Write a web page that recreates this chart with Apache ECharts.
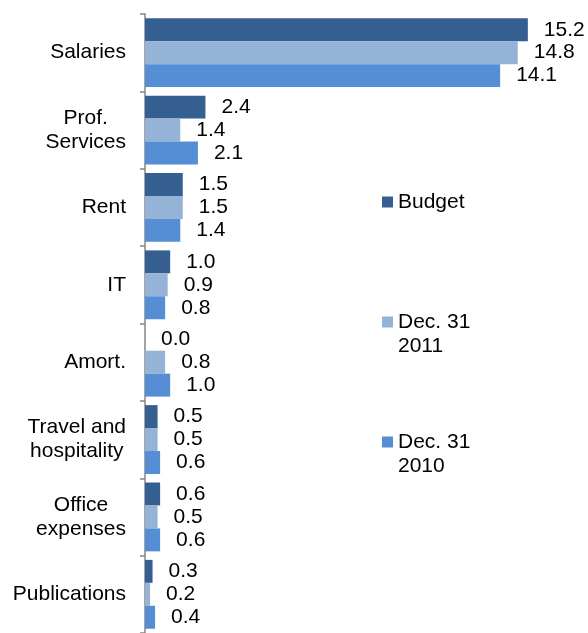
<!DOCTYPE html>
<html>
<head>
<meta charset="utf-8">
<script src="https://cdn.jsdelivr.net/npm/echarts@6/dist/echarts.min.js"></script>
<style>
  html, body { margin: 0; padding: 0; background: #ffffff; }
  #chart { width: 588px; height: 633px; }
</style>
</head>
<body>
<div id="chart"></div>
<script>
// Expense categories, top to bottom
const categories = ['Salaries', 'Prof.\nServices', 'Rent', 'IT', 'Amort.', 'Travel and\nhospitality', 'Office\nexpenses', 'Publications'];

// Series names and values (millions)
const seriesNames = ['Budget', 'Dec. 31 2011', 'Dec. 31 2010'];
const budget  = [15.2, 2.4, 1.5, 1.0, 0.0, 0.5, 0.6, 0.3];
const dec2011 = [14.8, 1.4, 1.5, 0.9, 0.8, 0.5, 0.5, 0.2];
const dec2010 = [14.1, 2.1, 1.4, 0.8, 1.0, 0.6, 0.6, 0.4];

const colors = ['#365F91', '#95B3D7', '#558ED5'];
const FONT = 'Liberation Sans, Arial, sans-serif';
const FS = 21;
const LH = 24;

const chart = echarts.init(document.getElementById('chart'), null, { renderer: 'canvas' });

function barSeries(name, values, color) {
  return {
    name: name,
    type: 'bar',
    data: values,
    barGap: '0%',
    barCategoryGap: '11%',
    itemStyle: { color: color },
    label: {
      show: true,
      position: 'right',
      distance: 16,
      color: '#000000',
      fontFamily: FONT,
      fontSize: FS,
      formatter: p => p.value.toFixed(1)
    }
  };
}

// Legend text: a blank line above and below keeps the first text line level with the swatch
function legendText(name) {
  const lines = name === 'Budget' ? ['Budget', ' '] : name.replace(' 20', '\n20').split('\n');
  return ' \n' + lines.join('\n');
}

chart.setOption({
  animation: false,
  textStyle: { fontFamily: FONT },
  grid: { left: 145, top: 14, right: 40, bottom: -5, containLabel: false },
  xAxis: {
    type: 'value',
    min: 0,
    max: 16,
    show: false
  },
  yAxis: {
    type: 'category',
    inverse: true,
    data: categories,
    axisLine: { show: true, lineStyle: { color: '#868686', width: 1.5 } },
    axisTick: { show: true, length: 5, lineStyle: { color: '#868686', width: 1.5 } },
    axisLabel: {
      margin: 19,
      color: '#000000',
      fontFamily: FONT,
      fontSize: FS,
      lineHeight: LH,
      formatter: v => v.split('\n').map(s => '{c|' + s + '}').join('\n'),
      rich: { c: { align: 'center', fontSize: FS, fontFamily: FONT, lineHeight: LH, color: '#000000' } }
    },
    splitLine: { show: false }
  },
  legend: {
    orient: 'vertical',
    left: 382,
    top: 166,
    padding: 0,
    itemWidth: 11,
    itemHeight: 11,
    itemGap: 48,
    icon: 'rect',
    data: seriesNames,
    formatter: legendText,
    textStyle: {
      color: '#000000',
      fontFamily: FONT,
      fontSize: FS,
      lineHeight: LH
    }
  },
  series: [
    barSeries(seriesNames[0], budget, colors[0]),
    barSeries(seriesNames[1], dec2011, colors[1]),
    barSeries(seriesNames[2], dec2010, colors[2])
  ]
});
</script>
</body>
</html>
